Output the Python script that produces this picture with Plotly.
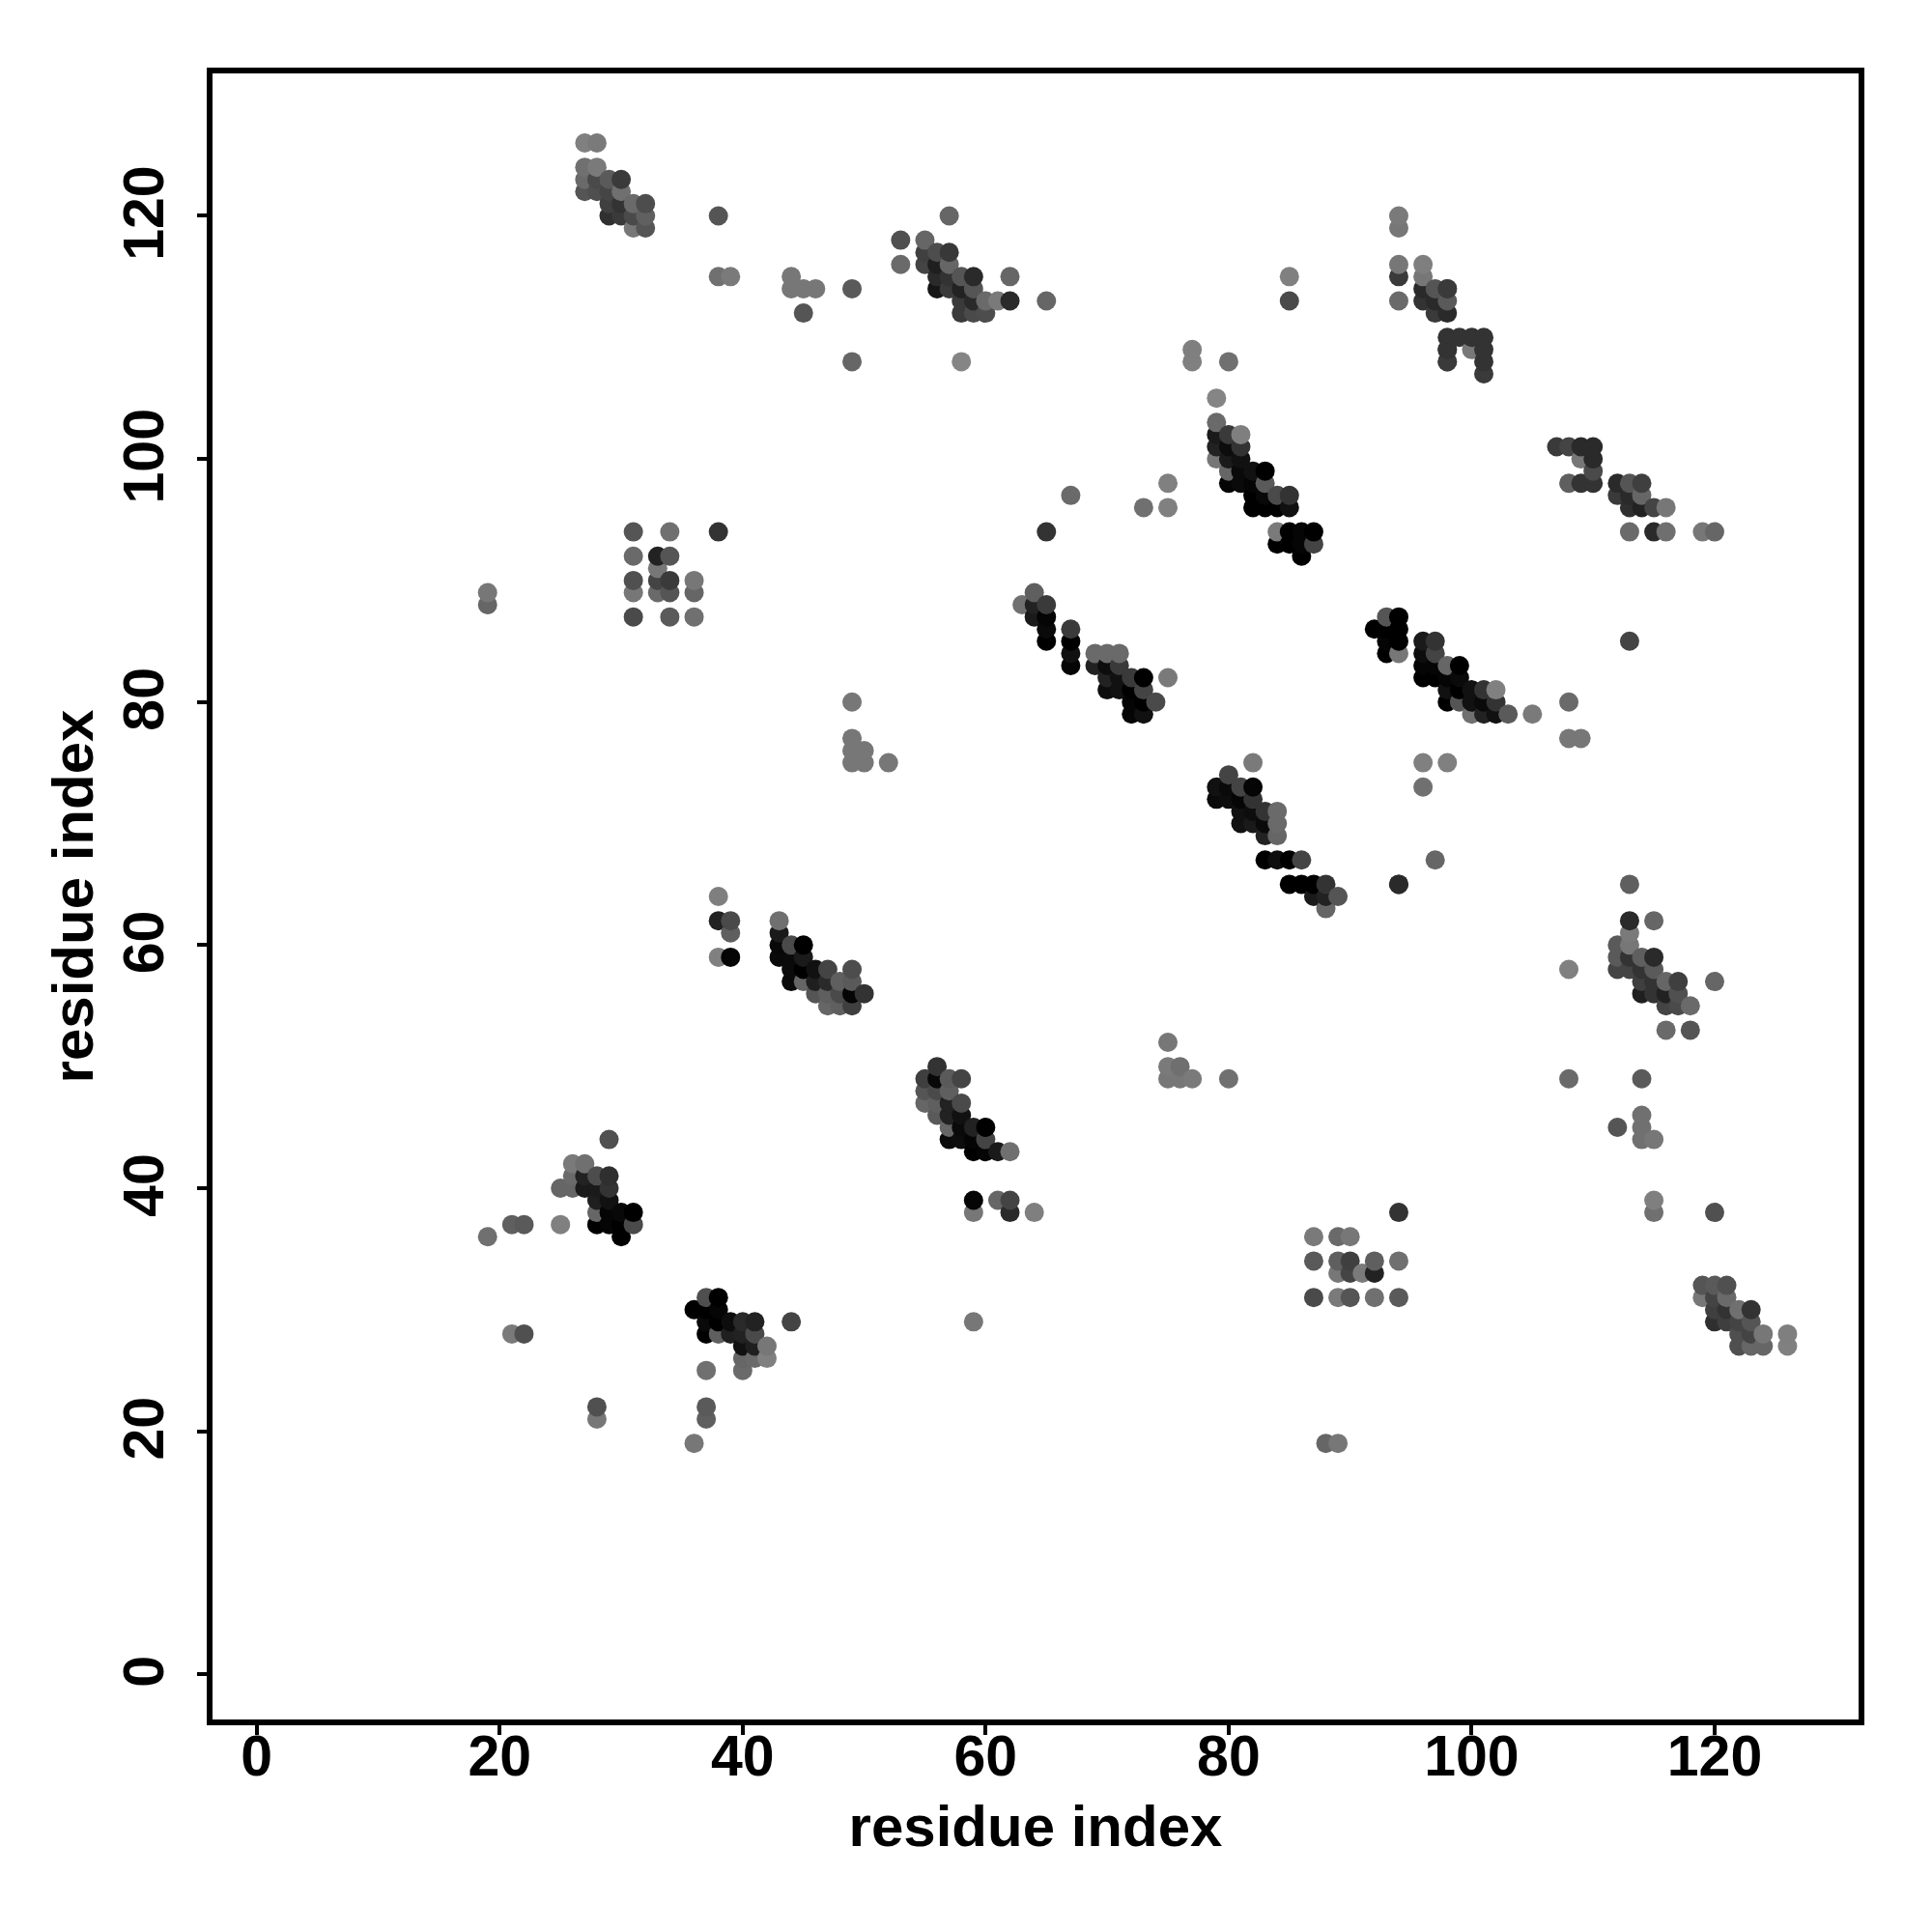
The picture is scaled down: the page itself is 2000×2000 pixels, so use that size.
import plotly.graph_objects as go

res_i = [
 27,28,27,28,27,28,29,30,27,28,29,30,29,30,31,32,29,30,31,32,31,32,
 38,38,39,44,44,45,46,45,49,49,53,53,55,57,58,
 55,56,57,55,56,57,58,56,57,56,57,58,58,58,59,59,59,60,61,62,62,65,59,60,
 85,85,94,94,94,94,94,96,96,96,97,98,96,97,98,97,98,98,98,98,
 98,99,100,101,98,100,101,98,101,101,
 77,77,80,79,79,79,80,81,79,80,81,79,80,81,80,81,82,83,80,81,82,83,
 82,83,84,85,82,83,84,85,84,85,86,87,84,85,86,87,86,
 75,75,73,67,65,64,63,64,65,64,65,65,65,67,67,67,67,
 93,94,92,93,94,93,94,93,94,
 107,108,109,110,109,110,110,108,109,110,
 112,113,114,112,113,114,113,114,115,116,113,115,116,119,120,113,
 96,97,96,97,96,97,98,99,96,97,98,99,98,99,100,101,102,98,99,100,101,102,
 100,101,102,103,105,108,108,109,96,98,96,97,94,113,
 82,80,79,80,81,82,79,80,81,82,81,82,83,84,81,82,83,84,83,84,
 83,84,85,86,85,86,87,88,87,88,89,88,94,
 69,70,71,69,70,71,70,71,72,73,75,70,71,72,73,72,73,74,72,73,
 19,19,31,34,38,31,33,34,33,31,33,34,36,31,33,34,36,31,34,36,
 49,49,49,50,49,50,52,
 38,38,39,39,38,39,43,43,43,44,45,43,44,45,44,45,46,47,49,44,45,46,47,48,49,46,47,48,49,50,47,48,49,
 56,55,56,57,58,55,56,57,55,56,57,58,56,57,58,57,58,59,60,57,58,59,60,59,60,61,62,
 59,59,61,62,62,64,75,75,76,75,76,77,80,59,
 113,115,113,112,113,112,113,114,115,112,113,114,115,114,115,116,117,120,114,115,116,117,
 116,117,118,116,118,108,108,114,112,114,114,114,115,
 29,26,27,26,27,28,29,25,26,27,28,29,28,29,28,29,30,31,28,29,30,31,30,21,22,25,19,21,22,28,28,37,37,36,37,40,
 37,38,36,37,38,37,38,39,40,41,44,37,38,39,40,41,40,41,42,40,41,42,
 94,87,89,90,87,89,90,92,94,89,90,91,92,87,89,90,92,94,88,89,115,115,120,
 119,120,121,119,120,121,120,121,122,123,120,121,122,123,122,123,124,126,122,123,124,126,
]
res_j = [
 126,126,124,124,123,123,123,123,122,122,122,122,121,121,121,121,120,120,120,120,119,119,
 120,115,115,115,114,114,114,112,114,108,118,116,118,120,108,
 117,117,117,116,116,116,115,115,115,114,114,114,113,112,115,114,113,113,113,113,115,113,112,112,
 115,113,120,119,116,115,113,116,115,114,114,114,113,113,113,112,112,110,109,108,
 114,110,110,110,109,109,109,108,108,107,
 109,108,108,105,103,102,102,102,101,101,101,100,100,100,99,99,99,99,98,98,98,98,
 97,97,97,97,96,96,96,96,94,94,94,94,93,93,93,93,92,
 98,96,96,97,94,89,88,88,88,87,87,86,85,86,85,84,83,
 87,87,86,86,86,85,85,84,84,
 101,101,101,101,100,100,99,98,98,98,
 98,98,98,97,97,97,96,96,96,96,94,94,94,94,94,85,
 85,85,84,84,83,83,83,83,82,82,82,82,81,81,81,81,81,80,80,80,80,80,
 79,79,79,79,79,80,77,77,75,75,73,67,65,65,
 75,74,73,73,73,73,72,72,72,72,71,71,71,71,70,70,70,70,69,69,
 67,67,67,67,65,65,65,65,64,64,64,63,65,
 84,84,84,83,83,83,82,82,82,82,82,81,81,81,81,80,80,80,79,79,
 89,88,94,94,94,92,92,92,91,90,90,90,90,89,89,89,89,87,87,87,
 80,77,76,76,75,75,75,
 64,62,62,61,59,59,62,61,60,60,60,59,59,59,58,58,58,58,58,57,57,57,57,57,57,56,56,56,56,56,55,55,55,
 50,49,49,49,49,48,48,48,47,47,47,47,46,46,46,45,45,45,45,44,44,44,44,43,43,43,43,
 39,38,39,39,38,38,52,50,50,49,49,49,49,29,
 62,62,61,60,60,59,59,59,59,58,58,58,58,57,57,57,57,57,56,56,56,56,
 55,55,55,53,53,58,49,49,45,46,45,44,44,
 44,42,42,41,41,41,41,40,40,40,40,40,39,39,38,38,38,38,37,37,37,37,36,37,37,37,36,28,28,22,21,22,21,19,25,25,
 31,31,30,30,30,29,29,29,29,29,29,28,28,28,28,28,27,27,27,26,26,26,
 38,36,36,36,34,34,34,34,34,33,33,33,33,31,31,31,31,31,19,19,39,38,38,
 32,32,32,31,31,31,30,30,30,30,29,29,29,29,28,28,28,28,27,27,27,27,
]
gray = [
 128,122,112,122,106,74,90,58,85,79,69,112,64,51,106,77,48,58,74,96,119,85,
 85,112,122,119,119,119,119,85,90,102,80,106,102,102,133,
 64,77,56,68,31,102,85,42,51,22,58,34,58,58,42,85,42,106,122,42,102,102,74,77,
 128,74,122,119,119,58,106,127,119,42,85,74,51,42,90,58,42,51,58,102,
 58,51,51,51,51,120,51,58,51,58,
 127,128,112,133,106,26,58,127,34,13,51,119,26,17,102,10,17,0,5,10,5,90,
 0,8,74,51,0,0,0,17,122,0,5,0,0,0,5,68,0,
 128,128,112,106,51,95,112,34,58,26,5,10,0,58,0,17,5,
 85,0,0,0,0,5,0,0,119,
 58,68,42,42,119,42,74,95,51,51,
 42,85,63,58,42,102,47,34,68,119,106,42,111,119,102,68,
 26,51,13,68,5,5,102,0,0,0,5,10,17,0,17,51,128,0,85,17,10,51,
 112,34,17,90,122,106,119,119,128,128,112,102,47,95,
 122,68,17,10,68,5,10,13,5,51,17,13,51,106,17,26,10,106,34,102,
 0,13,0,68,0,0,0,51,26,34,85,102,42,
 106,106,106,34,13,58,34,17,58,0,122,13,17,0,68,5,0,74,5,17,
 119,102,85,112,51,106,34,85,119,80,68,58,119,119,106,85,102,74,90,112,
 119,119,119,119,119,119,119,
 127,34,74,95,128,5,112,26,8,74,0,10,10,26,10,0,17,68,77,10,102,31,42,95,90,85,95,74,5,51,102,95,63,
 51,63,8,90,68,85,74,95,102,95,34,74,90,34,17,102,10,34,0,10,13,5,68,0,5,26,112,
 5,119,102,68,42,127,119,122,111,119,119,122,112,119,
 42,102,122,90,119,90,51,95,42,68,68,51,90,63,51,102,63,102,31,51,34,80,
 68,74,106,106,85,128,106,90,85,112,112,112,119,
 80,122,112,106,34,77,47,102,102,26,26,51,31,17,102,5,8,0,0,5,0,74,0,95,90,128,112,122,80,80,119,90,95,119,112,106,
 79,0,0,0,5,10,0,13,42,34,68,0,95,31,34,74,17,31,119,102,106,128,
 51,122,106,119,90,95,63,95,112,119,68,122,34,74,122,85,112,90,102,119,127,112,80,
 85,90,80,119,68,106,63,51,112,51,47,63,68,85,79,68,119,127,79,102,102,128,
]

order = sorted(range(len(res_i)), key=lambda k: (res_i[k], res_j[k]))
xs = [res_i[k] for k in order]
ys = [res_j[k] for k in order]
cs = [gray[k] for k in order]

font = "Liberation Sans"
fig = go.Figure(go.Scatter(
    x=xs, y=ys, mode="markers",
    marker=dict(size=20, color=cs, cmin=0, cmax=255,
                colorscale=[[0, "#000000"], [1, "#ffffff"]], line=dict(width=0)),
    hoverinfo="skip", showlegend=False))

axis = dict(tick0=0, dtick=20, showgrid=False, zeroline=False,
            showline=True, mirror=True, linecolor="black", linewidth=6,
            ticks="outside", ticklen=10, tickwidth=4, tickcolor="black",
            tickfont=dict(family=font, size=59, color="black", weight="bold"))
title_font = dict(family=font, size=60, color="black")
fig.update_xaxes(**axis, range=[-3.64, 131.85], ticklabelstandoff=-29,
                 title=dict(text="<b>residue index</b>", font=title_font, standoff=21))
fig.update_yaxes(**axis, range=[-3.72, 131.72], tickangle=-90, ticklabelstandoff=11, ticklabelshift=6,
                 title=dict(text="<b>residue index</b>", font=title_font, standoff=2))
fig.update_layout(width=2000, height=2000, autosize=False, plot_bgcolor="white", paper_bgcolor="white",
                  margin=dict(l=212, r=84, t=68, b=228, pad=0))
fig.write_html("out.html")
